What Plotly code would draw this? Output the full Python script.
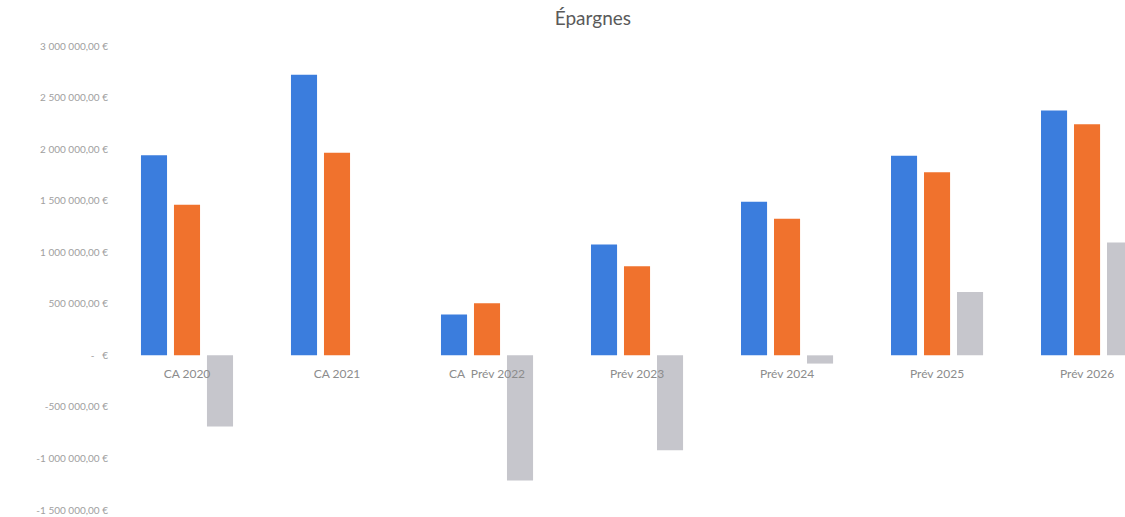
import plotly.graph_objects as go

# Categories (years) and savings series, in euros
categories = ["CA 2020", "CA 2021", "CA  Prév 2022", "Prév 2023", "Prév 2024", "Prév 2025", "Prév 2026"]
epargne_gestion = [1940000, 2720000, 395000, 1075000, 1490000, 1935000, 2375000]
epargne_brute = [1460000, 1965000, 505000, 865000, 1325000, 1775000, 2240000]
epargne_nette = [-690000, 0, -1215000, -920000, -80000, 615000, 1095000]

# Y-axis ticks in French currency format
tick_values = [3000000, 2500000, 2000000, 1500000, 1000000, 500000, 0,
               -500000, -1000000, -1500000]
tick_labels = ["3 000 000,00 €", "2 500 000,00 €", "2 000 000,00 €", "1 500 000,00 €",
               "1 000 000,00 €", "500 000,00 €", "-   €", "-500 000,00 €",
               "-1 000 000,00 €", "-1 500 000,00 €"]

colors = ["#3b7ddd", "#f0722d", "#c6c6cc"]
series = [("Épargne de gestion", epargne_gestion),
          ("Épargne brute", epargne_brute),
          ("Épargne nette", epargne_nette)]

fig = go.Figure()
for (name, values), color in zip(series, colors):
    fig.add_trace(go.Bar(x=categories, y=values, name=name,
                         marker=dict(color=color, line=dict(width=0))))

y_min, y_max = -1500000, 3000000
fig.update_layout(
    width=1125, height=517,
    margin=dict(l=112, r=0, t=46, b=7),
    paper_bgcolor="white", plot_bgcolor="white",
    barmode="group", bargap=0.34, bargroupgap=0.21,
    showlegend=False,
    font=dict(family="Lato, 'Open Sans', sans-serif", color="#9a9a9a", size=10),
    title=dict(text="Épargnes", x=0.527, xanchor="center", y=0.965, yanchor="middle",
               font=dict(size=19, color="#5a5a5a")),
    xaxis=dict(type="category", range=[-0.5, 6.253], showgrid=False,
               showline=False, zeroline=False, ticks="",
               anchor="free", position=(0 - y_min) / (y_max - y_min),
               ticklabelstandoff=10,
               tickfont=dict(size=12, color="#8c8c8c")),
    yaxis=dict(range=[y_min, y_max], tickvals=tick_values, ticktext=tick_labels,
               showgrid=False, zeroline=False, showline=False, ticks="",
               ticklabelstandoff=3,
               tickfont=dict(size=10, color="#a0a0a0")),
)

fig.write_html("out.html")
